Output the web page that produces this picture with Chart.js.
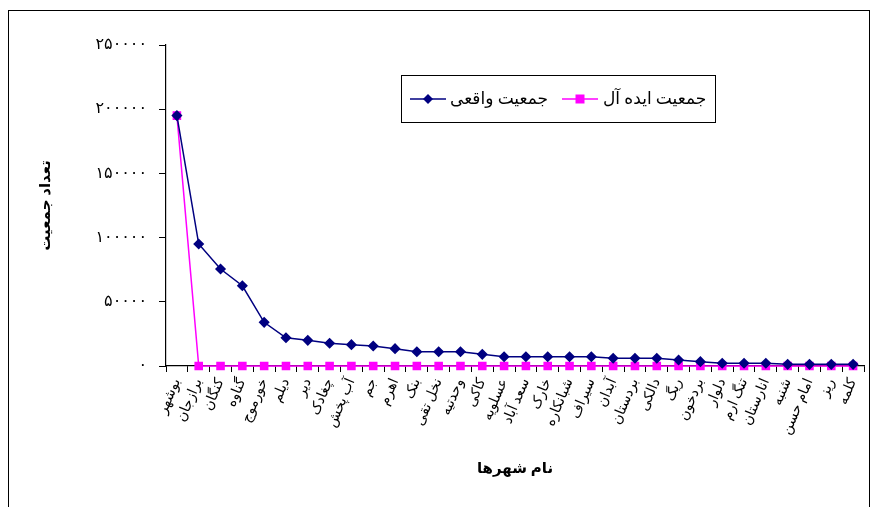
<!DOCTYPE html>
<html lang="fa">
<head>
<meta charset="UTF-8">
<title>جمعیت شهرها</title>
<script src="https://cdn.jsdelivr.net/npm/chart.js"></script>
<style>
  html, body { margin: 0; padding: 0; background: #fff; }
  #wrap { width: 877px; height: 507px; }
</style>
</head>
<body>
<div id="wrap"><canvas id="cityChart" width="877" height="507"></canvas></div>
<script>
// data
const cities = ['بوشهر', 'برازجان', 'کنگان', 'گناوه', 'خورموج', 'دیلم', 'دیر', 'چغادک',
  'آب پخش', 'جم', 'اهرم', 'بنک', 'نخل تقی', 'وحدتیه', 'کاکی', 'عسلویه',
  'سعد آباد', 'خارک', 'شبانکاره', 'سیراف', 'آبدان', 'بردستان', 'دالکی', 'ریگ',
  'بردخون', 'دلوار', 'تنگ ارم', 'انارستان', 'شنبه', 'امام حسن', 'ریز', 'کلمه'];
const realPop = [195000, 95000, 75500, 62500, 34000, 22000, 20000, 17700, 16600, 15600,
  13500, 11100, 11100, 11100, 9100, 7200, 7200, 7200, 7200, 7200, 6000, 6000, 6000,
  4700, 3400, 2100, 2100, 2100, 1300, 1300, 1300, 1300];
const idealPop = [195000, 0, 0, 0, 0, 0, 0, 0, 0, 0, 0, 0, 0, 0, 0, 0, 0, 0, 0, 0,
  0, 0, 0, 0, 0, 0, 0, 0, 0, 0, 0, 0];
const yTicks = [0, 50000, 100000, 150000, 200000, 250000];

const faFont = "'Liberation Serif', 'DejaVu Sans', serif";

function toFa(n) {
  return String(n).replace(/\d/g, d => '۰۱۲۳۴۵۶۷۸۹'[d]);
}

// outer frame + legend box inside the plot
const framePlugin = {
  id: 'frame',
  beforeDraw(chart) {
    const c = chart.ctx;
    c.save();
    c.fillStyle = '#fff';
    c.fillRect(0, 0, chart.width, chart.height);
    c.strokeStyle = '#000';
    c.lineWidth = 1;
    c.strokeRect(8.5, 10.5, 861, 600);
    c.restore();
  },
  afterDraw(chart) {
    const c = chart.ctx;
    const ds = chart.data.datasets;
    c.save();
    c.fillStyle = '#fff';
    c.fillRect(401.5, 75.5, 314, 47);
    c.strokeStyle = '#000';
    c.lineWidth = 1;
    c.strokeRect(401.5, 75.5, 314, 47);
    c.font = '17px ' + faFont;
    c.fillStyle = '#000';
    c.textBaseline = 'middle';
    const items = [
      { d: ds[0], x0: 410, x1: 446, tx: 450 },
      { d: ds[1], x0: 562, x1: 598, tx: 603 }
    ];
    const y = 99;
    items.forEach(it => {
      c.strokeStyle = it.d.borderColor;
      c.lineWidth = 1.5;
      c.beginPath();
      c.moveTo(it.x0, y);
      c.lineTo(it.x1, y);
      c.stroke();
      const cx = (it.x0 + it.x1) / 2;
      c.fillStyle = it.d.pointBackgroundColor;
      c.beginPath();
      if (it.d.pointStyle === 'rectRot') {
        c.moveTo(cx, y - 5); c.lineTo(cx + 5, y); c.lineTo(cx, y + 5); c.lineTo(cx - 5, y);
      } else {
        c.rect(cx - 4.5, y - 4.5, 9, 9);
      }
      c.closePath();
      c.fill();
      c.fillStyle = '#000';
      c.textAlign = 'left';
      c.fillText(it.d.label, it.tx, y + 1);
    });
    c.restore();
  }
};

const ctx = document.getElementById('cityChart').getContext('2d');
const cityChart = new Chart(ctx, {
  type: 'line',
  data: {
    labels: cities,
    datasets: [{
      label: 'جمعیت واقعی',
      data: realPop,
      borderColor: '#000080',
      backgroundColor: '#000080',
      pointBackgroundColor: '#000080',
      pointBorderColor: '#000080',
      pointStyle: 'rectRot',
      pointRadius: 4.5,
      borderWidth: 1.5,
      tension: 0,
      clip: false
    }, {
      label: 'جمعیت ایده آل',
      data: idealPop,
      borderColor: '#FF00FF',
      backgroundColor: '#FF00FF',
      pointBackgroundColor: '#FF00FF',
      pointBorderColor: '#FF00FF',
      pointStyle: 'rect',
      pointRadius: 5,
      borderWidth: 1.5,
      tension: 0,
      clip: false
    }]
  },
  options: {
    responsive: false,
    animation: false,
    layout: { padding: { left: 33, right: 13, top: 45, bottom: 25 } },
    plugins: {
      legend: { display: false },
      tooltip: { enabled: false }
    },
    scales: {
      x: {
        offset: true,
        grid: { offset: true, drawOnChartArea: false, color: '#000', tickLength: 6, tickWidth: 1 },
        border: { color: '#000', width: 1.2 },
        ticks: {
          color: '#000',
          font: { family: faFont, size: 14 },
          minRotation: 67, maxRotation: 67,
          autoSkip: false,
          padding: 4
        },
        title: {
          display: true,
          text: 'نام شهرها',
          color: '#000',
          font: { family: faFont, size: 15, weight: 'bold' },
          padding: 4
        },
        afterFit(scale) { scale.height = 116; }
      },
      y: {
        min: 0, max: 250000,
        afterBuildTicks(scale) { scale.ticks = yTicks.map(v => ({ value: v })); },
        grid: { drawOnChartArea: false, color: '#000', tickLength: 7, tickWidth: 1 },
        border: { color: '#000', width: 1.2 },
        ticks: {
          color: '#000',
          font: { family: faFont, size: 16 },
          padding: 12,
          callback: v => toFa(v)
        },
        title: {
          display: true,
          text: 'تعداد جمعیت',
          color: '#000',
          font: { family: faFont, size: 15, weight: 'bold' },
          padding: 4
        },
        afterFit(scale) { scale.width = 133; }
      }
    }
  },
  plugins: [framePlugin]
});
</script>
</body>
</html>
